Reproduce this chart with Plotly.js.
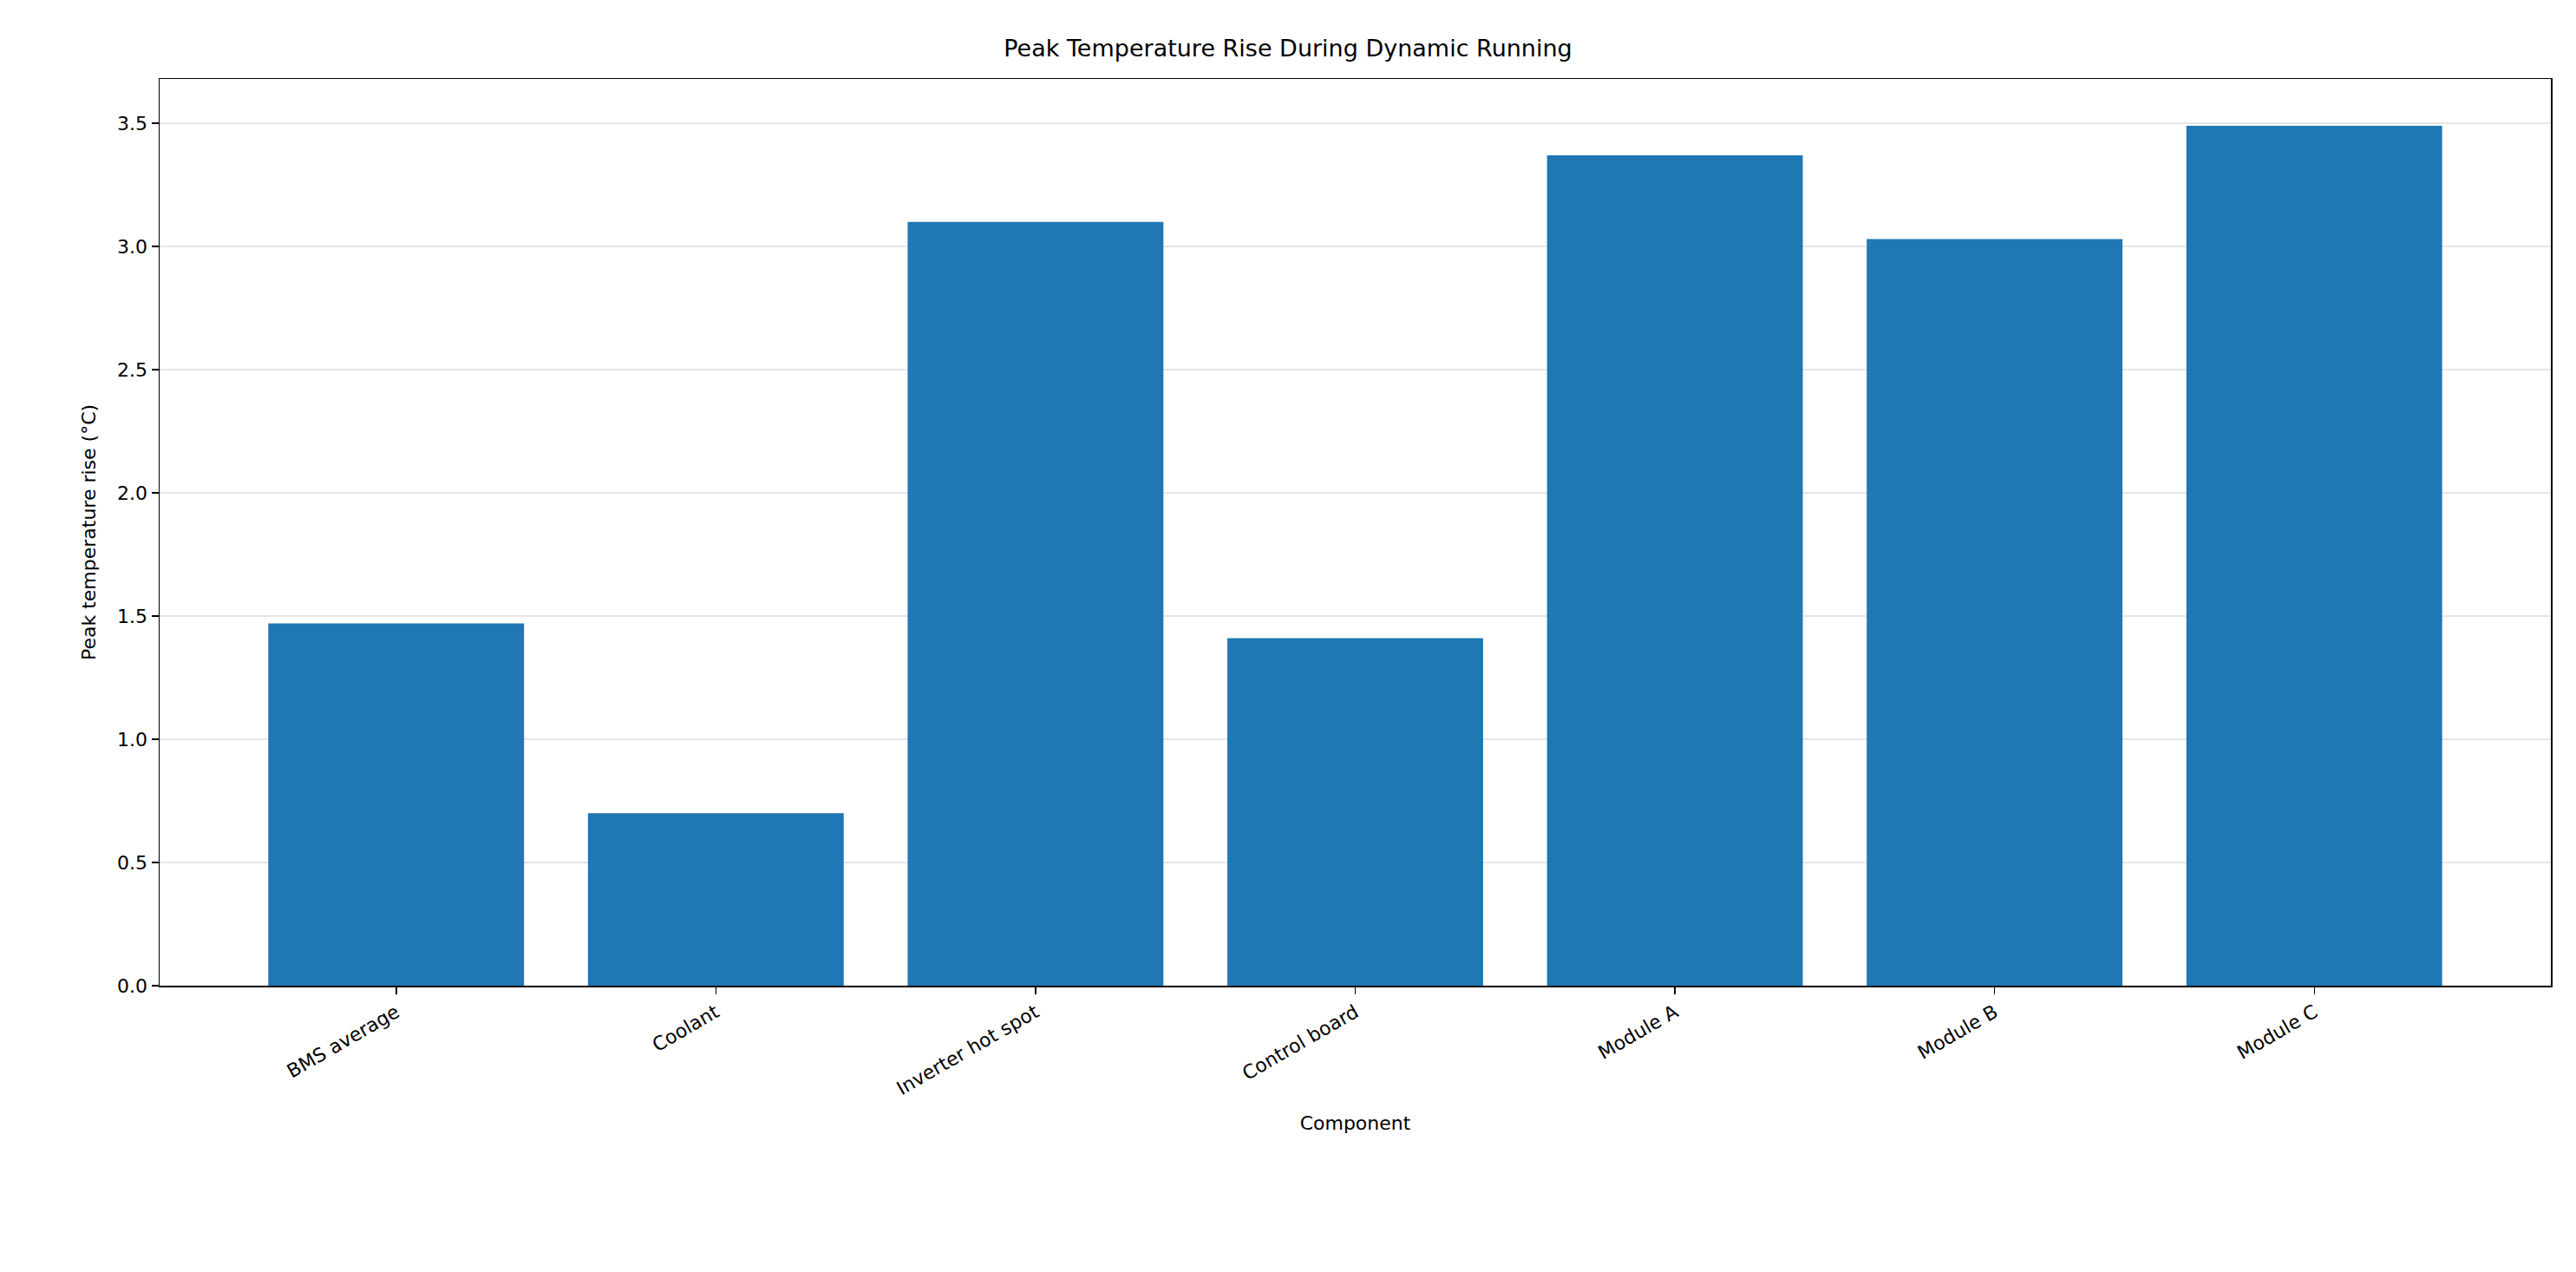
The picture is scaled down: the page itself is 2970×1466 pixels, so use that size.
<!DOCTYPE html>
<html>
<head>
<meta charset="utf-8">
<script src="https://cdn.plot.ly/plotly-3.0.1.min.js"></script>
<style>html,body{margin:0;padding:0;background:#fff;}#chart{width:2970px;height:1466px;}</style>
</head>
<body>
<div id="chart"></div>
<script>
var components = ["BMS average", "Coolant", "Inverter hot spot", "Control board", "Module A", "Module B", "Module C"];
var peakRise = [1.47, 0.70, 3.10, 1.41, 3.37, 3.03, 3.49];
var yTicks = [0, 0.5, 1, 1.5, 2, 2.5, 3, 3.5];

var axisFont = { family: "DejaVu Sans", size: 22, color: "#000" };

Plotly.newPlot("chart", [{
  type: "bar",
  x: components,
  y: peakRise,
  width: 0.8,
  marker: { color: "#1f77b4" },
  hoverinfo: "x+y"
}], {
  width: 2970,
  height: 1466,
  paper_bgcolor: "#fff",
  plot_bgcolor: "#fff",
  margin: { l: 184, r: 29, t: 91, b: 330 },
  showlegend: false,
  title: {
    text: "Peak Temperature Rise During Dynamic Running",
    font: { family: "DejaVu Sans", size: 27, color: "#000" },
    x: 0.5, xanchor: "center", y: 1 - 56 / 1466, yanchor: "middle"
  },
  xaxis: {
    range: [-0.74, 6.74],
    tickangle: -30,
    ticks: "outside", ticklen: 8, tickwidth: 1.5, tickcolor: "#000",
    tickfont: axisFont,
    showline: true, linecolor: "#000", linewidth: 1.5, mirror: true,
    showgrid: false,
    title: { text: "Component", font: axisFont, standoff: 20 }
  },
  yaxis: {
    range: [0, 3.68],
    tickvals: yTicks,
    ticktext: yTicks.map(function (v) { return v.toFixed(1); }),
    ticks: "outside", ticklen: 8, tickwidth: 1.5, tickcolor: "#000",
    tickfont: axisFont,
    showline: true, linecolor: "#000", linewidth: 1.5, mirror: true,
    showgrid: true, gridcolor: "rgba(0,0,0,0.1)", gridwidth: 1.5,
    zeroline: false,
    title: { text: "Peak temperature rise (°C)", font: axisFont, standoff: 18 }
  }
}, { displayModeBar: false, staticPlot: true });
</script>
</body>
</html>
